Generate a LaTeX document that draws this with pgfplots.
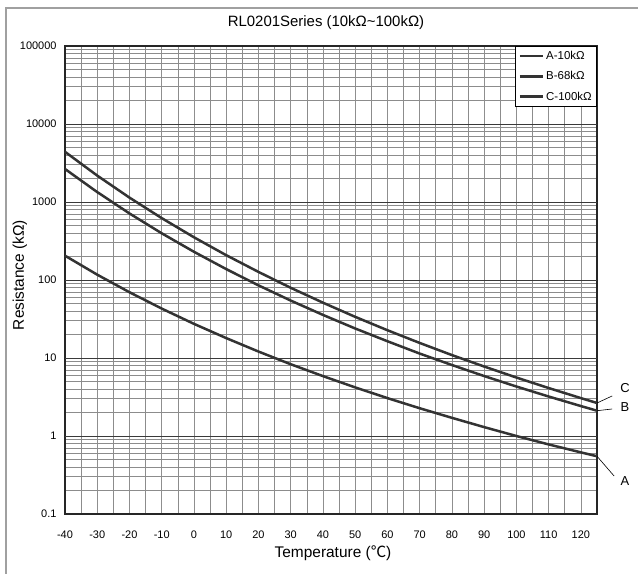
\documentclass[border=0pt]{standalone}
\usepackage{fontspec}
\setmainfont{Liberation Sans}
\newfontfamily\cjk{Noto Sans CJK SC}
\usepackage{pgfplots}
\pgfplotsset{compat=1.18}
\usetikzlibrary{calc}

\definecolor{curve}{HTML}{333333}
\definecolor{gridmaj}{HTML}{3A3A3A}
\definecolor{gridmin}{HTML}{8C8C8C}
\definecolor{gridx}{HTML}{8F8F8F}
\definecolor{framegray}{HTML}{A0A0A0}

\begin{document}
\begin{tikzpicture}
\begin{axis}[
  scale only axis, width=532bp, height=468bp,
  xmin=-40, xmax=125, ymin=0.1, ymax=100000, ymode=log,
  xtick={-40,-30,...,120}, minor x tick num=1,
  xticklabels={-40,-30,-20,-10,0,10,20,30,40,50,60,70,80,90,100,110,120},
  ytick={0.1,1,10,100,1000,10000,100000},
  yticklabels={0.1,1,10,100,1000,10000,100000},
  grid=both,
  major grid style={gridx, line width=0.7bp},
  minor grid style={gridmin, line width=0.6bp},
  extra y ticks={1,10,100,1000,10000},
  extra y tick labels={},
  extra y tick style={grid=major, major grid style={gridmaj, line width=0.8bp}},
  major tick length=0pt, minor tick length=0pt,
  axis line style={black!85, line width=1.3bp},
  tick label style={font=\fontsize{11}{13}\selectfont},
  xticklabel style={yshift=-13bp},
  yticklabel style={xshift=-5bp},
  clip=false,
  legend cell align=left,
  legend style={at={(1,1)}, anchor=north east, draw=black, line width=0.6bp,
    font=\fontsize{11.5}{13}\selectfont, inner sep=3bp, row sep=6.5bp,
    fill=white},
  legend image code/.code={\draw[#1] (0bp,0bp) -- (23bp,0bp);},
]
\addplot[curve, line width=2.5bp] coordinates {
(-40,205) (-30,117) (-20,69.7) (-10,43.0) (0,27.4) (10,18.0) (20,12.1)
(30,8.32) (40,5.86) (50,4.20) (60,3.06) (70,2.27) (80,1.71) (90,1.30)
(100,1.00) (110,0.78) (120,0.617) (125,0.55)};
\addlegendentry{A-10kΩ}
\addplot[curve, line width=2.5bp] coordinates {
(-40,2650) (-30,1340) (-20,713) (-10,397) (0,230) (10,138) (20,85.4)
(30,54.5) (40,35.7) (50,23.9) (60,16.4) (70,11.4) (80,8.13) (90,5.87)
(100,4.31) (110,3.21) (120,2.42) (125,2.11)};
\addlegendentry{B-68kΩ}
\addplot[curve, line width=2.5bp] coordinates {
(-40,4400) (-30,2180) (-20,1138) (-10,621) (0,353) (10,208) (20,127)
(30,79.5) (40,51.2) (50,33.7) (60,22.7) (70,15.6) (80,10.9) (90,7.78)
(100,5.62) (110,4.12) (120,3.06) (125,2.65)};
\addlegendentry{C-100kΩ}
\draw[black, line width=0.6bp] (axis cs:125,2.65) -- (axis cs:129.7,3.26);
\draw[black, line width=0.6bp] (axis cs:125,2.11) -- (axis cs:129.7,2.22);
\draw[black, line width=0.6bp] (axis cs:125,0.55) -- (axis cs:130.3,0.307);
\node[font=\fontsize{13}{15}\selectfont] at (axis cs:133.7,4.12) {C};
\node[font=\fontsize{13}{15}\selectfont] at (axis cs:133.7,2.36) {B};
\node[font=\fontsize{13}{15}\selectfont] at (axis cs:133.7,0.265) {A};
\end{axis}
\node[font=\fontsize{15}{18}\selectfont] at ($(current axis.north)+(-5bp,23bp)$)
  {RL0201Series (10kΩ\textasciitilde100kΩ)};
\node[font=\fontsize{15.5}{18}\selectfont] at ($(current axis.south)+(2bp,-39bp)$)
  {Temperature ({\cjk ℃})};
\node[font=\fontsize{15.5}{18}\selectfont, rotate=90] at ($(current axis.west)+(-45bp,5bp)$)
  {Resistance (kΩ)};
\draw[framegray, line width=1.2bp]
  ($(current axis.south west)+(-59bp,-80bp)$) -- ($(current axis.north west)+(-59bp,38bp)$)
  -- ($(current axis.north east)+(60bp,38bp)$);
\pgfresetboundingbox
\path[use as bounding box] ($(current axis.south west)+(-65bp,-60bp)$)
  rectangle ($(current axis.north east)+(41bp,46bp)$);
\end{tikzpicture}
\end{document}
